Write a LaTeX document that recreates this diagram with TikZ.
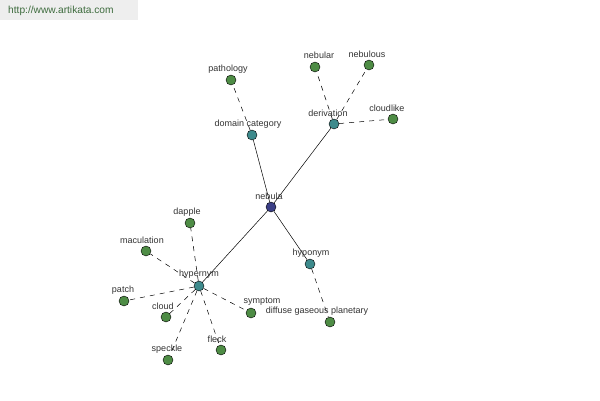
\documentclass[tikz,border=0pt]{standalone}
\usepackage{fontspec}
\setmainfont{Liberation Sans}
\begin{document}
\begin{tikzpicture}[x=1pt,y=-1pt,
  dot/.style={circle,draw=black,line width=0.4pt,minimum size=10pt,inner sep=0pt},
  leaf/.style={dot,fill=leafc},
  rel/.style={dot,fill=relc},
  core/.style={dot,fill=corec},
  lbl/.style={font=\fontsize{9}{10}\selectfont,text=labc,inner sep=0pt},
  solidl/.style={draw=black,line width=0.5pt},
  dashl/.style={draw=black,line width=0.5pt,dash pattern=on 5pt off 5pt}]
\definecolor{leafc}{HTML}{4E8C45}
\definecolor{relc}{HTML}{3D8A8C}
\definecolor{corec}{HTML}{3B3F86}
\definecolor{labc}{HTML}{333333}
\definecolor{hdrc}{HTML}{EEEEEE}
\definecolor{hdrt}{HTML}{3D6B3D}
\useasboundingbox (0,0) rectangle (600,400);
\fill[white] (0,0) rectangle (600,400);
\fill[hdrc] (0,0) rectangle (138,20);
\node[font=\fontsize{10.2}{12}\selectfont,text=hdrt,anchor=west,inner sep=0pt] (hdr) at (8,11) {http://www.artikata.com};
% nodes
\node[core] (neb) at (271,207) {};
\node[rel] (dom) at (252,135) {};
\node[rel] (der) at (334,124) {};
\node[rel] (hypo) at (310,264) {};
\node[rel] (hyper) at (199,286) {};
\node[leaf] (path) at (231,80) {};
\node[leaf] (nebular) at (315,67) {};
\node[leaf] (nebulous) at (369,65) {};
\node[leaf] (cloudlike) at (393,119) {};
\node[leaf] (diffuse) at (330,322) {};
\node[leaf] (dapple) at (190,223) {};
\node[leaf] (mac) at (146,251) {};
\node[leaf] (patch) at (124,301) {};
\node[leaf] (cloud) at (166,317) {};
\node[leaf] (speckle) at (168,360) {};
\node[leaf] (fleck) at (221,350) {};
\node[leaf] (symptom) at (251,313) {};
% edges
\path[solidl] (neb) -- (dom);
\path[solidl] (neb) -- (der);
\path[solidl] (neb) -- (hypo);
\path[solidl] (neb) -- (hyper);
\path[dashl] (dom) -- (path);
\path[dashl] (der) -- (nebular);
\path[dashl] (der) -- (nebulous);
\path[dashl] (der) -- (cloudlike);
\path[dashl] (hypo) -- (diffuse);
\path[dashl] (hyper) -- (dapple);
\path[dashl] (hyper) -- (mac);
\path[dashl] (hyper) -- (patch);
\path[dashl] (hyper) -- (cloud);
\path[dashl] (hyper) -- (speckle);
\path[dashl] (hyper) -- (fleck);
\path[dashl] (hyper) -- (symptom);
% labels
\node[lbl] (lneb) at (269,196) {nebula};
\node[lbl] (ldom) at (248,124) {domain category};
\node[lbl] (lder) at (328,113) {derivation};
\node[lbl] (lhypo) at (311,253) {hyponym};
\node[lbl] (lhyper) at (199,274) {hypernym};
\node[lbl] (lpath) at (228,69) {pathology};
\node[lbl] (lnebular) at (319,55) {nebular};
\node[lbl] (lnebulous) at (367,54) {nebulous};
\node[lbl] (lcloudlike) at (387,108) {cloudlike};
\node[lbl] (ldiffuse) at (317,311) {diffuse gaseous planetary};
\node[lbl] (ldapple) at (187,212) {dapple};
\node[lbl] (lmac) at (142,240) {maculation};
\node[lbl] (lpatch) at (123,290) {patch};
\node[lbl] (lcloud) at (163,306) {cloud};
\node[lbl] (lspeckle) at (167,349) {speckle};
\node[lbl] (lfleck) at (217,339) {fleck};
\node[lbl] (lsymptom) at (262,302) {symptom};
\end{tikzpicture}
\end{document}
